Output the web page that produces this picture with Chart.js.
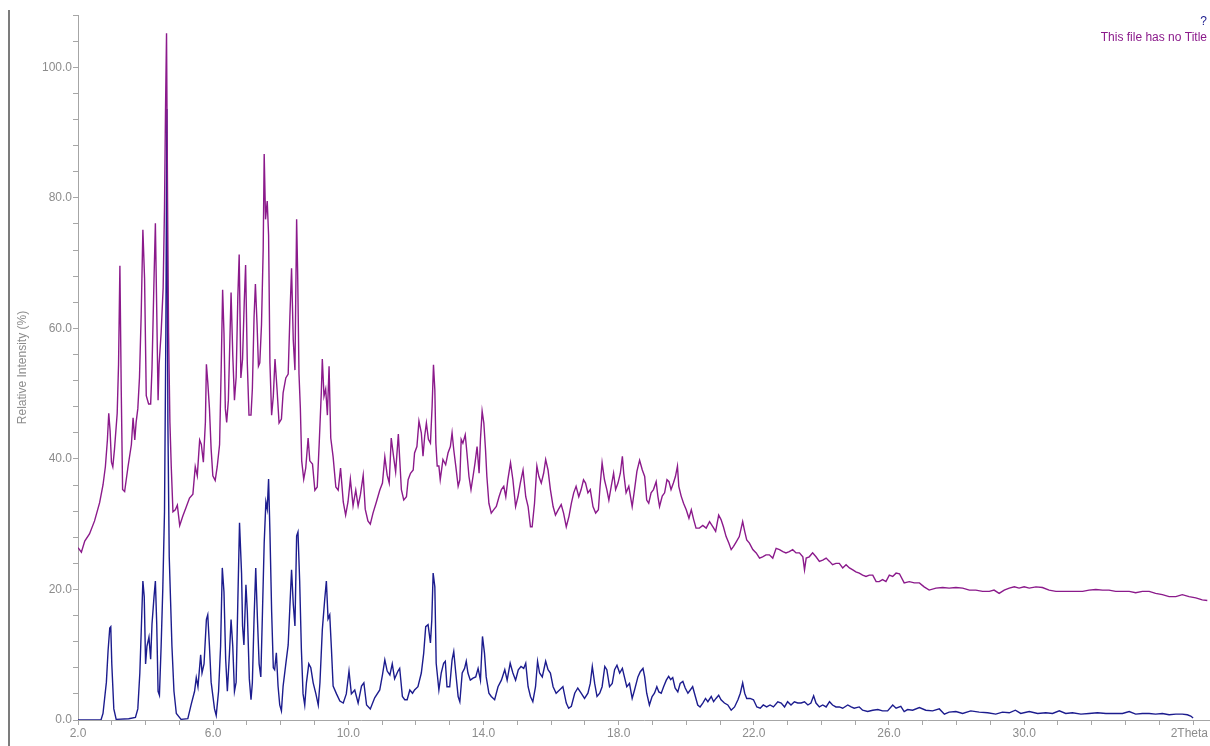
<!DOCTYPE html>
<html>
<head>
<meta charset="utf-8">
<script src="https://cdn.jsdelivr.net/npm/chart.js@4.4.1/dist/chart.umd.min.js"></script>
<style>
  html, body { margin: 0; padding: 0; background: #ffffff; }
  #wrap { position: relative; width: 1210px; height: 746px; }
</style>
</head>
<body>
<div id="wrap"><canvas id="c"></canvas></div>
<script>
// ---- Data (2Theta in degrees, relative intensity in %) ----
const blueX = [2.0,2.68,2.74,2.84,2.89,2.94,2.97,3.0,3.06,3.13,3.5,3.7,3.77,3.83,3.87,3.92,3.96,4.0,4.04,4.1,4.15,4.19,4.25,4.29,4.33,4.37,4.41,4.46,4.51,4.56,4.6,4.63,4.66,4.7,4.74,4.78,4.84,4.91,5.05,5.25,5.35,5.45,5.5,5.55,5.63,5.67,5.73,5.8,5.84,5.89,5.94,6.04,6.09,6.16,6.22,6.27,6.32,6.37,6.42,6.48,6.53,6.58,6.63,6.68,6.73,6.78,
6.84,6.87,6.91,6.97,7.01,7.07,7.12,7.16,7.21,7.26,7.31,7.36,7.41,7.46,7.51,7.56,7.6,7.64,7.68,7.73,7.78,7.82,7.87,7.92,7.97,8.02,8.07,8.15,8.22,8.27,8.32,8.37,8.42,8.47,8.51,8.56,8.61,8.66,8.71,8.76,8.83,8.89,8.96,9.04,9.11,9.16,9.23,9.3,9.35,9.4,9.45,9.5,9.55,9.65,9.75,9.85,9.94,10.02,10.09,10.19,10.29,10.39,10.46,10.54,10.65,10.78,10.93,11.01,11.08,11.15,11.23,11.3,11.37,11.47,
11.52,11.6,11.67,11.74,11.82,11.9,11.96,12.06,12.16,12.23,12.29,12.36,12.43,12.47,12.51,12.56,12.6,12.68,12.75,12.82,12.87,12.92,13.0,13.07,13.12,13.18,13.25,13.3,13.37,13.44,13.49,13.54,13.61,13.69,13.77,13.84,13.91,13.97,14.03,14.08,14.16,14.23,14.33,14.43,14.53,14.63,14.7,14.79,14.87,14.95,15.03,15.11,15.19,15.25,15.32,15.39,15.46,15.54,15.6,15.66,15.74,15.84,15.91,15.98,16.06,16.15,16.25,16.35,16.45,16.52,16.6,16.7,16.79,16.89,16.99,17.09,17.16,17.22,17.29,17.36,17.44,17.51,17.59,17.65,17.73,17.81,17.88,17.95,18.03,18.11,18.17,18.24,18.32,18.4,18.47,18.57,
18.64,18.72,18.77,18.83,18.91,18.99,19.06,19.13,19.19,19.26,19.33,19.41,19.48,19.54,19.6,19.67,19.75,19.82,19.9,19.97,20.05,20.12,20.19,20.27,20.34,20.41,20.49,20.57,20.64,20.74,20.81,20.88,20.96,21.03,21.13,21.23,21.33,21.43,21.53,21.6,21.67,21.73,21.79,21.89,21.99,22.09,22.19,22.28,22.38,22.48,22.58,22.71,22.81,22.91,23.0,23.1,23.2,23.3,23.4,23.5,23.6,23.69,23.77,23.84,23.94,24.04,24.14,24.24,24.33,24.43,24.53,24.63,24.78,24.88,24.97,25.12,25.22,25.37,25.52,25.67,25.81,25.96,
26.11,26.21,26.35,26.45,26.55,26.7,26.9,27.09,27.29,27.49,27.64,27.78,27.98,28.18,28.42,28.67,28.92,29.16,29.36,29.56,29.74,29.9,30.15,30.4,30.64,30.84,31.04,31.23,31.43,31.68,31.92,32.17,32.42,32.66,32.91,33.11,33.3,33.5,33.7,33.89,34.09,34.29,34.49,34.68,34.83,34.93,35.0];
const blueY = [0,0,1,5.8,10.6,14.1,14.3,8.6,1.7,0.1,0.2,0.4,1.7,7.2,13.4,21.3,18.9,8.6,11.3,12.7,9.3,14.7,18.9,21.3,14.7,4.4,3.8,11.3,20.2,31.9,59.3,93.6,45.6,25,18.2,11.3,4.4,1,0.1,0.2,2.4,4.4,6.5,5.1,10,7.2,8.6,15.4,16.1,11.3,5.8,1.7,0.7,4.4,11.3,23.3,19.6,9.3,4.4,10,15.4,11.3,4.4,5.8,18.2,30.2,
22.5,14.4,11.5,20.7,16.7,6.3,3.1,5.7,15.5,23.3,15.5,8.6,6.6,16.7,27.1,33.4,32.3,36.9,28.8,16.7,8,7.7,10.3,5.2,2.3,1.4,5.2,8.6,11.5,17.3,23,17.8,14.4,28.2,28.8,21.3,10.9,4,2.3,5.7,8.6,8,5.7,4,2.3,5.7,13.8,18.4,21.3,15.5,16.1,10.9,5.2,4,2.9,2.6,4,7.5,4,4.6,2.6,5.2,5.7,2.3,1.7,3.4,4.6,6.9,9.2,7.5,6.9,8.6,6.3,7.5,
7.9,3.6,3.1,3.1,4.6,4.1,4.6,5.1,7.2,10.2,14.3,14.6,11.8,15.3,22.5,20.4,8.7,4.6,7.2,8.7,9,5.1,5.1,9.2,10.5,7.2,3.6,2.8,7.2,7.9,9,7.2,6.1,6.4,6.6,7.9,6.1,12.8,10.2,6.6,4.1,3.6,3.1,5.1,6.1,7.7,6.1,8.7,7.2,6.1,7.7,8.2,7.9,8.7,5.1,3.6,2.8,5.1,9,7.2,6.6,9,7.7,7.2,5.1,4.1,4.6,5.1,2.6,1.8,2.1,4.1,4.9,4.1,3.3,4.1,5.6,8.2,5.6,3.6,4.1,5.1,8.2,7.7,5.1,5.6,7.7,8.4,7.2,7.9,6.6,5.1,5.6,3.3,4.6,6.6,
7.4,7.9,6.6,4.1,2.3,3.6,4.1,5.1,4.3,4.1,5.1,6.1,6.7,6.2,6.5,4.9,4.3,5.6,5.9,4.9,4.1,4.6,5.1,3.6,2.3,2.0,2.6,3.3,2.8,3.6,2.8,3.3,3.8,3.1,2.6,2.3,1.5,2.0,3.1,4.1,5.7,4.1,3.3,3.3,3.1,2.0,1.8,2.3,2.0,2.3,2.0,2.8,2.6,2.0,2.8,2.3,2.8,2.6,2.6,2.8,2.3,2.6,3.7,2.6,2.0,2.3,2.0,2.8,2.3,2.0,2.0,1.8,2.3,2.0,1.8,2.0,1.5,1.3,1.5,1.6,1.4,1.4,
2.3,1.8,2.1,1.3,1.6,1.5,1.9,1.5,1.4,1.7,0.9,1.2,1.3,1.0,1.4,1.2,1.1,0.9,1.2,1.1,1.5,1.0,1.3,1.0,1.1,1.0,1.4,1.0,1.1,0.9,1.0,1.1,1.0,1.0,1.0,1.3,0.9,1.0,1.0,0.9,1.0,0.8,0.9,0.9,0.8,0.6,0.3];

const purpleX = [2.0,2.1,2.2,2.34,2.49,2.64,2.74,2.81,2.87,2.91,2.95,2.99,3.03,3.08,3.16,3.2,3.24,3.28,3.32,3.38,3.48,3.58,3.63,3.68,3.72,3.77,3.82,3.87,3.92,3.97,4.02,4.09,4.15,4.19,4.25,4.29,4.33,4.37,4.4,4.46,4.52,4.56,4.59,4.62,4.65,4.68,4.72,4.76,4.81,4.88,4.94,5.01,5.1,5.2,5.3,5.4,5.47,5.53,5.6,5.65,5.71,5.77,5.8,5.84,5.89,5.94,5.99,6.06,6.12,6.19,6.24,6.28,6.32,6.36,6.4,6.45,6.5,6.53,6.58,6.63,6.68,6.73,6.77,
6.82,6.87,6.92,6.96,7.01,7.06,7.12,7.16,7.21,7.25,7.3,7.34,7.38,7.43,7.48,7.51,7.55,7.6,7.64,7.68,7.73,7.78,7.83,7.89,7.95,8.02,8.07,8.15,8.22,8.27,8.32,8.37,8.42,8.47,8.5,8.54,8.58,8.62,8.68,8.74,8.81,8.86,8.94,9.01,9.08,9.14,9.2,9.23,9.28,9.33,9.38,9.43,9.48,9.55,9.63,9.7,9.77,9.85,9.92,9.99,10.06,10.14,10.22,10.29,10.36,10.44,10.5,10.58,10.65,10.73,10.83,10.93,11.01,11.08,11.15,11.21,11.27,11.34,11.4,11.48,
11.57,11.64,11.72,11.77,11.84,11.92,11.96,12.03,12.09,12.16,12.21,12.26,12.31,12.37,12.43,12.48,12.52,12.56,12.59,12.63,12.68,12.72,12.8,12.88,12.95,13.02,13.07,13.12,13.18,13.25,13.3,13.34,13.39,13.46,13.51,13.57,13.63,13.69,13.75,13.81,13.87,13.91,13.96,14.01,14.06,14.1,14.16,14.23,14.3,14.38,14.46,14.53,14.6,14.66,14.72,14.8,14.87,14.95,15.02,15.09,15.17,15.25,15.32,15.39,15.44,15.51,15.58,15.64,15.71,15.78,15.84,15.91,15.98,16.06,16.13,16.21,16.3,16.37,16.45,16.53,16.6,16.67,16.74,16.82,16.89,16.96,17.02,17.09,17.16,17.24,17.32,17.4,17.45,17.51,17.58,17.65,17.71,17.78,17.85,17.91,17.98,18.05,18.11,18.15,18.22,18.3,
18.4,18.47,18.54,18.62,18.7,18.77,18.83,18.89,18.96,19.03,19.11,19.16,19.21,19.29,19.36,19.43,19.49,19.55,19.62,19.68,19.74,19.78,19.85,19.92,20.0,20.08,20.15,20.22,20.29,20.39,20.49,20.59,20.69,20.79,20.87,20.96,21.03,21.1,21.18,21.26,21.33,21.4,21.48,21.57,21.67,21.73,21.79,21.87,21.97,22.07,22.17,22.26,22.36,22.46,22.56,22.66,22.76,22.86,22.95,23.05,23.15,23.25,23.35,23.45,23.5,23.55,23.64,23.74,23.84,23.94,24.04,24.14,24.24,24.33,24.43,24.53,24.63,24.73,24.83,24.93,25.02,25.12,25.22,25.32,25.42,25.52,25.62,25.71,25.81,25.91,26.01,26.11,26.21,
26.31,26.45,26.6,26.75,26.9,27.04,27.19,27.39,27.59,27.78,27.98,28.18,28.38,28.57,28.77,28.97,29.11,29.26,29.41,29.56,29.71,29.85,30.0,30.15,30.35,30.54,30.74,30.94,31.14,31.33,31.53,31.73,31.92,32.12,32.32,32.51,32.71,32.91,33.11,33.3,33.5,33.7,33.89,34.09,34.29,34.49,34.68,34.88,35.08,35.27,35.42];
const purpleY = [26.4,25.7,27.4,28.5,30.5,33.3,36,38.8,42.9,47,44.3,39.5,38.8,41.5,47,54.5,69.6,50.4,35.3,35,38.8,42.2,46.3,42.9,45.6,47.7,52.5,62.1,75.1,67.6,49.7,48.4,48.4,53.9,67.6,76.1,62.8,49,54.5,59.3,66.2,78.5,93.6,105.2,79.9,59.3,45.6,38.8,31.9,32.2,32.9,29.8,31.2,32.6,34,34.6,38.8,37.4,42.9,42.2,39.5,45.6,54.5,51.8,47.7,41.5,37.4,36.7,38.8,42.2,54.5,65.9,59.3,47.7,45.6,49,59.3,65.5,55.9,49,52.5,64.8,71.3,
52.4,55.3,64,69.7,54.7,46.7,46.7,50.7,61.7,66.8,60.5,54.2,54.7,60.5,72,86.7,76.7,79.5,74.3,54.7,46.7,49.6,55.3,50.7,45.5,46.1,50.1,52.4,53,61.7,69.2,58.2,53.6,76.7,68.6,53,47.8,39.7,36.9,38.6,43.2,39.7,39.2,35.2,35.7,42.6,50.1,55.3,49.6,50.7,46.7,54.2,43.2,40.3,35.7,35.2,38.6,33.4,31.4,33.4,36.9,32.8,35.2,32.8,34.6,37.5,32.3,30.5,30,31.7,33.4,35.2,36.3,40.3,37.5,36.3,43.2,40.3,38,43.8,
35.3,33.7,34.2,36.8,37.8,38.3,40.9,41.9,45.8,44,40.4,43.5,45.5,43,42.4,48.1,54.4,50.6,42.4,38.9,38.9,36.8,39.9,39.1,40.9,41.9,44,41.4,38.9,35.8,36.8,43,42.4,43.7,40.9,37.3,35.3,37.3,39.4,41.9,37.8,43,47.3,45.5,41.4,37.3,33.2,31.7,32.2,32.7,34.2,35.3,35.8,34.2,36.8,39.4,36.8,32.7,34.2,36.3,38.3,34.2,32.7,29.6,29.6,33.2,38.9,37.3,36.3,37.8,39.9,38.3,35.3,32.7,31.4,32.2,33,31.7,29.6,31.2,33.2,34.8,35.8,34.2,35.3,36.8,36.3,34.8,35.3,32.7,31.7,32.2,35.8,39.4,36.8,35.3,33.7,35.8,37.8,35.3,36.3,37.8,40.4,37.8,34.8,35.8,
32.7,35.3,38.1,39.8,38.3,37.3,33.7,33.2,34.8,35.3,36.5,34.3,32.7,34.3,34.8,36.8,36.5,35.3,36.3,37.3,38.9,35.8,34.3,33.2,32.2,30.9,32.2,30.7,29.4,29.4,29.8,29.4,30.4,29.6,28.9,31.4,30.7,29.6,28.1,27.1,26.1,26.6,27.3,28.1,30.4,28.9,27.6,27.1,26.1,25.6,24.8,25.0,25.3,25.3,24.8,26.3,26.1,25.8,25.6,25.8,26.1,25.6,25.6,25.0,23.0,24.8,25.0,25.6,25.0,24.3,24.5,24.8,24.3,23.8,24.0,24.0,23.3,23.8,23.3,23.0,22.7,22.5,22.2,22.0,22.2,22.2,21.2,21.2,21.5,21.2,22.2,22.0,22.5,
22.4,21.0,21.2,21.0,21.0,20.4,19.9,20.2,20.3,20.2,20.3,20.2,19.9,19.9,19.7,19.7,19.9,19.4,19.9,20.2,20.4,20.2,20.4,20.2,20.4,20.3,19.9,19.7,19.7,19.7,19.7,19.7,19.9,20.0,19.9,19.9,19.7,19.7,19.7,19.5,19.7,19.7,19.4,19.2,18.9,18.9,19.2,18.9,18.7,18.4,18.3];

// Axis settings (values, not positions)
const xMin = 2, xMax = 35.5, xStep = 1, xLabelEvery = 4, xLastLabeled = 30;
const xUnitLabel = '2Theta';
const yMin = 0, yMax = 108, yStep = 4, yLabelEvery = 20;
const yTitle = 'Relative Intensity (%)';
const titleLine1 = '?';
const titleLine2 = 'This file has no Title';

const toPts = (xs, ys) => xs.map((x, i) => ({ x: x, y: ys[i] }));

const FONT = '"Liberation Sans", Arial, Helvetica, sans-serif';
const GREY_TXT = '#8c8c8c';
const GREY_AX = '#a6a6a6';
const PURPLE = '#8b1a8b';
const NAVY = '#1c1c8e';

Chart.defaults.font.family = FONT;

const deco = {
  id: 'deco',
  afterDraw(chart) {
    const ctx = chart.ctx;
    const xs = chart.scales.x;
    ctx.save();
    ctx.strokeStyle = '#7c7c7c';
    ctx.lineWidth = 2;
    ctx.beginPath();
    ctx.moveTo(9, 10);
    ctx.lineTo(9, chart.height);
    ctx.stroke();
    ctx.font = '12px ' + FONT;
    ctx.textAlign = 'right';
    ctx.textBaseline = 'middle';
    ctx.fillStyle = NAVY;
    ctx.fillText(titleLine1, chart.width - 3, 22);
    ctx.fillStyle = PURPLE;
    ctx.fillText(titleLine2, chart.width - 3, 38);
    // unit label at the right end of the x axis, on the tick-label line
    ctx.fillStyle = GREY_TXT;
    ctx.textBaseline = 'top';
    ctx.fillText(xUnitLabel, chart.width - 2, xs.top + 8);
    ctx.restore();
  }
};

function evenTicks(lo, hi, step) {
  const t = [];
  for (let v = lo; v <= hi + 1e-9; v += step) t.push({ value: Math.round(v * 1000) / 1000 });
  return t;
}

new Chart(document.getElementById('c'), {
  type: 'line',
  data: {
    datasets: [
      { label: 'Sample 1', data: toPts(purpleX, purpleY), borderColor: PURPLE, borderWidth: 1.4,
        pointRadius: 0, tension: 0, fill: false },
      { label: 'Sample 2', data: toPts(blueX, blueY), borderColor: NAVY, borderWidth: 1.4,
        pointRadius: 0, tension: 0, fill: false }
    ]
  },
  options: {
    responsive: true,
    maintainAspectRatio: false,
    animation: false,
    layout: { padding: { top: 15, right: 0, left: 0, bottom: 0 } },
    plugins: { legend: { display: false }, tooltip: { enabled: false }, title: { display: false } },
    scales: {
      x: {
        type: 'linear', min: xMin, max: xMax,
        afterBuildTicks: s => { s.ticks = evenTicks(xMin, Math.floor(xMax), xStep); },
        afterFit: s => { s.height = 26; s.paddingRight = 0; s.paddingLeft = 0; },
        ticks: {
          stepSize: xStep, autoSkip: false, maxRotation: 0, minRotation: 0, padding: 1,
          color: GREY_TXT, font: { size: 12, family: FONT },
          callback: v => ((v - xMin) % xLabelEvery === 0 && v <= xLastLabeled) ? v.toFixed(1) : ''
        },
        grid: { drawOnChartArea: false, drawTicks: true, tickLength: 5, color: GREY_AX },
        border: { color: GREY_AX, width: 1 }
      },
      y: {
        type: 'linear', min: yMin, max: yMax,
        afterBuildTicks: s => { s.ticks = evenTicks(yMin, yMax, yStep); },
        afterFit: s => { s.width = 78; s.paddingTop = 0; s.paddingBottom = 0; },
        ticks: {
          stepSize: yStep, autoSkip: false, padding: 1,
          color: GREY_TXT, font: { size: 12, family: FONT },
          callback: v => (v % yLabelEvery === 0) ? v.toFixed(1) : ''
        },
        grid: { drawOnChartArea: false, drawTicks: true, tickLength: 5, color: GREY_AX },
        border: { color: GREY_AX, width: 1 },
        title: { display: true, text: yTitle, color: GREY_TXT, font: { size: 12, family: FONT }, padding: { top: 15, bottom: 0 } }
      }
    }
  },
  plugins: [deco]
});
</script>
</body>
</html>
